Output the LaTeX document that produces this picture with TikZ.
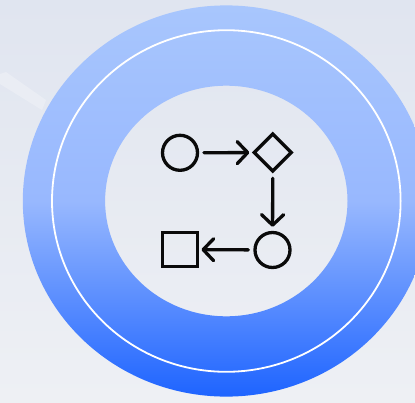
\documentclass[tikz,border=0pt]{standalone}
\usetikzlibrary{shapes.geometric,arrows.meta}
\definecolor{bgtop}{HTML}{E0E5F0}
\definecolor{bgbot}{HTML}{EEF0F4}
\definecolor{ringtop}{HTML}{A8C6FD}
\definecolor{ringmid}{HTML}{98B8FE}
\definecolor{ringbot}{HTML}{1E64FF}
\definecolor{ink}{HTML}{0A0A0A}
\pgfdeclareverticalshading{ringshade}{100bp}{color(0bp)=(ringbot); color(25bp)=(ringbot); color(50bp)=(ringmid); color(75bp)=(ringtop); color(100bp)=(ringtop)}
\tikzset{
  icon/.style={draw=ink, line width=3.3pt, inner sep=0pt, outer sep=0pt},
  roundshape/.style={icon, circle, minimum size=35pt},
  diamondshape/.style={icon, diamond, minimum size=37pt},
  squareshape/.style={icon, rectangle, minimum size=34.6pt},
  flow/.style={draw=ink, line width=3.3pt, line cap=round,
    -{Straight Barb[length=10.5pt, width=22pt, round]}},
}
\begin{document}
\begin{tikzpicture}[x=1pt, y=-1pt]
  \useasboundingbox (0,0) rectangle (415,402);
  \clip (0,0) rectangle (415,402);
  \shade[top color=bgtop, bottom color=bgbot] (0,0) rectangle (415,402);
  \fill[white, opacity=0.25] (0,74) -- (6,72) -- (46,100) -- (42,110) -- (0,84) -- cycle;
  \coordinate (ctr) at (226.3,201);
  \shade[shading=ringshade, even odd rule]
    (ctr) ellipse [x radius=203.5, y radius=195.6]
    (ctr) ellipse [x radius=121.2, y radius=115.3];
  \draw[white, line width=1.8pt] (ctr) ellipse [x radius=174.3, y radius=170.8];
  \node[roundshape] (start) at (180,152.8) {};
  \node[diamondshape] (decide) at (272.8,152.5) {};
  \node[roundshape] (step2) at (272.5,250) {};
  \node[squareshape] (stop) at (179.9,249.5) {};
  \draw[flow, shorten <=6.4pt, shorten >=5pt] (start) -- (decide);
  \draw[flow, shorten <=7.4pt, shorten >=5.7pt] (decide) -- (step2);
  \draw[flow, shorten <=6.6pt, shorten >=4.3pt] (step2) -- (stop);
\end{tikzpicture}
\end{document}
